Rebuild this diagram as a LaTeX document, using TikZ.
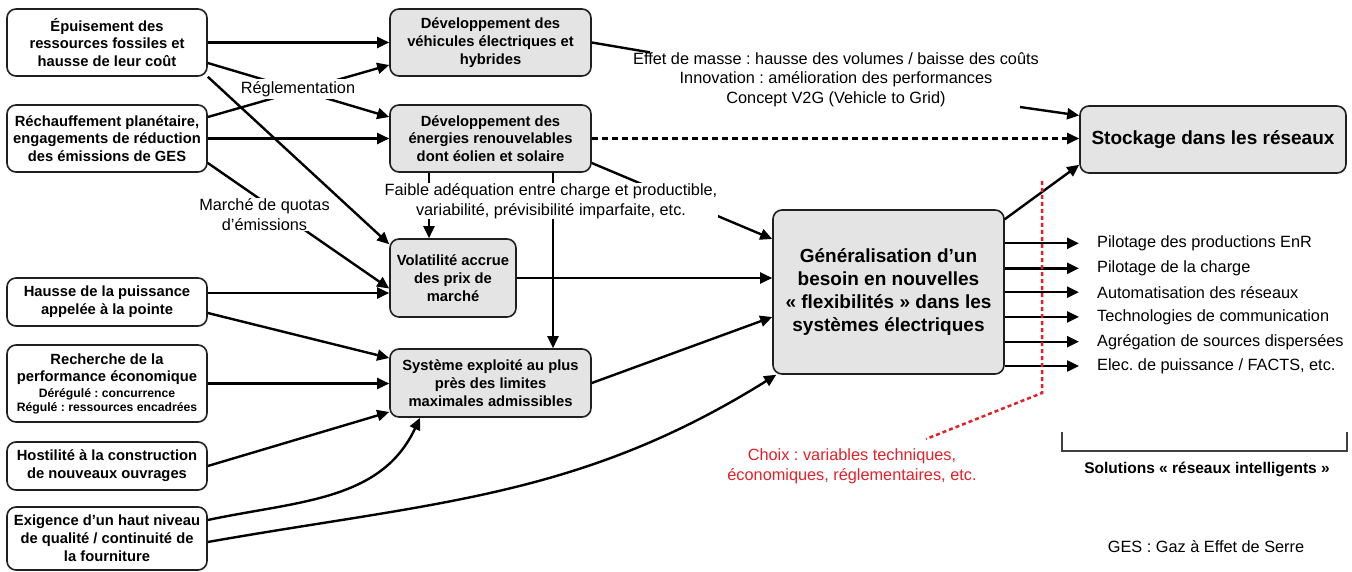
\documentclass[tikz,border=0pt]{standalone}
\usepackage{fontspec}
\setmainfont{Liberation Sans}
\usetikzlibrary{arrows.meta}
\definecolor{boxgray}{RGB}{228,228,228}
\definecolor{choixred}{RGB}{228,32,40}
\frenchspacing
\begin{document}
\begin{tikzpicture}[x=1pt,y=-1pt,
  box/.style={draw=black!88, line width=1.6pt, rounded corners=9pt, align=center,
    font=\bfseries\fontsize{14.75}{17.8}\selectfont, inner sep=1pt},
  wbox/.style={box, fill=white},
  gbox/.style={box, fill=boxgray},
  conn/.style={line width=2.4pt, -{Triangle[length=12pt,width=11pt]}},
  plainline/.style={line width=2.4pt},
  lbl/.style={font=\fontsize{16.3}{19.5}\selectfont, align=center, inner sep=1pt},
  wlbl/.style={lbl, fill=white, inner sep=2pt},
  outlbl/.style={font=\fontsize{16.3}{19.5}\selectfont, anchor=west, inner sep=0pt}]
\useasboundingbox (0,0) rectangle (1352,572);
\fill[white] (0,0) rectangle (1352,572);

% left boxes
\node[wbox, minimum width=200pt, minimum height=67pt] (A) at (107,42.5) {Épuisement des\\ressources fossiles et\\hausse de leur coût};
\node[wbox, minimum width=200pt, minimum height=67pt] (B) at (107,138.5) {Réchauffement planétaire,\\engagements de réduction\\des émissions de GES};
\node[wbox, minimum width=200pt, minimum height=48pt] (C) at (107,302) {Hausse de la puissance\\appelée à la pointe};
\node[wbox, minimum width=200pt, minimum height=77pt] (D) at (107,383.5) {Recherche de la\\performance économique\\[-2.5pt]{\fontsize{12.2}{14.3}\selectfont Dérégulé : concurrence}\\[-4pt]{\fontsize{12.2}{14.3}\selectfont Régulé : ressources encadrées}};
\node[wbox, minimum width=200pt, minimum height=48pt] (E) at (107,466) {Hostilité à la construction\\de nouveaux ouvrages};
\node[wbox, minimum width=200pt, minimum height=63pt] (F) at (107,538.5) {Exigence d’un haut niveau\\de qualité / continuité de\\la fourniture};

% middle boxes
\node[gbox, minimum width=201pt, minimum height=67pt] (V) at (490.5,42.5) {Développement des\\véhicules électriques et\\hybrides};
\node[gbox, minimum width=201pt, minimum height=67pt] (R) at (490.5,138.5) {Développement des\\énergies renouvelables\\dont éolien et solaire};
\node[gbox, minimum width=126pt, minimum height=78pt] (Vol) at (453,278) {Volatilité accrue\\des prix de\\marché};
\node[gbox, minimum width=201pt, minimum height=68pt] (Sys) at (490.5,383) {Système exploité au plus\\près des limites\\maximales admissibles};

% right boxes
\node[gbox, minimum width=231pt, minimum height=164pt, font=\bfseries\fontsize{19}{22.7}\selectfont] (Gen) at (888.5,292) {Généralisation d’un\\besoin en nouvelles\\« flexibilités » dans les\\systèmes électriques};
\node[gbox, minimum width=266pt, minimum height=67pt, font=\bfseries\fontsize{19}{22.7}\selectfont] (Stock) at (1213,139.5) {Stockage dans les réseaux};

% connectors from left boxes
\draw[conn] (A.east) -- (V.west);
\draw[conn] (B.east) -- (R.west);
\draw[conn] ([yshift=-20.5pt]A.east) -- ([yshift=21.5pt]R.west);
\draw[conn] ([yshift=21.5pt]B.east) -- ([yshift=-22.5pt]V.west);
\draw[conn] (A.south east) -- ([yshift=-6pt]Vol.north west);
\draw[conn] ([yshift=-24.5pt]B.east) -- ([yshift=-10.5pt]Vol.west);
\draw[conn] ([yshift=9pt]C.east) -- ([yshift=-15pt]Vol.west);
\draw[conn] ([yshift=-11pt]C.east) -- ([yshift=25pt]Sys.west);
\draw[conn] (D.east) -- (D.east -| Sys.west);
\draw[conn] (E.east) -- ([yshift=-29pt]Sys.west);
\draw[conn] ([yshift=18.5pt]F.east) to[out=12,in=245] ([xshift=-70.5pt]Sys.south);
\draw[conn] ([yshift=-3.5pt]F.east) to[out=10,in=212] ([xshift=4pt]Gen.south west);

% from R
\draw[conn] ([xshift=-61.5pt]R.south) -- ([xshift=-61.5pt]R.south |- Vol.north);
\draw[conn] ([xshift=62.5pt]R.south) -- ([xshift=62.5pt]R.south |- Sys.north);
\draw[conn] ([yshift=-24.5pt]R.east) -- ([yshift=53pt]Gen.west);
\draw[line width=2.4pt, dash pattern=on 6pt off 4pt, -{Triangle[length=12pt,width=11pt]}] (R.east) -- (R.east -| Stock.west);

% to Gen
\draw[conn] (Vol.east) -- (Vol.east -| Gen.west);
\draw[conn] (Sys.east) -- ([yshift=-25pt]Gen.west);

% labels covering lines
\node[wlbl] (regl) at (298,89) {Réglementation};
\node[wlbl, inner sep=1pt] (quota) at (264.5,214.5) {Marché de quotas\\d’émissions};
\node[wlbl, inner sep=1pt] (faible) at (551,201) {Faible adéquation entre charge et productible,\\variabilité, prévisibilité imparfaite, etc.};

% V -> Stockage via annotation
\node[lbl] (effet) at (836,79.7) {Effet de masse : hausse des volumes / baisse des coûts\\Innovation : amélioration des performances\\Concept V2G (Vehicle to Grid)};
\draw[plainline] (V.east) -- ([xshift=18pt,yshift=-1pt]effet.north west);
\draw[conn] ([xshift=-20pt,yshift=1pt]effet.south east) -- ([yshift=24pt]Stock.west);
\draw[conn] ([yshift=-10pt]Gen.north east) -- ([yshift=9pt]Stock.south west);

% outputs
\node[outlbl] (o1) at (1097,243.3) {Pilotage des productions EnR};
\node[outlbl] (o2) at (1097,268.3) {Pilotage de la charge};
\node[outlbl] (o3) at (1097,292.2) {Automatisation des réseaux};
\node[outlbl] (o4) at (1097,316.9) {Technologies de communication};
\node[outlbl] (o5) at (1097,341.7) {Agrégation de sources dispersées};
\node[outlbl] (o6) at (1097,366) {Elec. de puissance / FACTS, etc.};
\foreach \i in {1,...,6}{
  \draw[conn] (o\i.west -| Gen.east) -- ([xshift=-18pt]o\i.west);
}

% red choice line
\node[lbl, text=choixred] (choix) at (852,466.5) {Choix : variables techniques,\\économiques, réglementaires, etc.};
\coordinate (r1) at (1042,181);
\coordinate (r2) at (1042,393);
\coordinate (r3) at (926,439);
\draw[choixred, line width=2.5pt, dash pattern=on 4pt off 3pt] (r1) -- (r2) -- (r3);

% bracket
\coordinate (b1) at (1062,432);
\coordinate (b2) at (1062,451);
\coordinate (b3) at (1347,451);
\coordinate (b4) at (1347,432);
\draw[black!75, line width=1.5pt] (b1) -- (b2) -- (b3) -- (b4);
\node[font=\bfseries\fontsize{15.5}{18}\selectfont, inner sep=0pt] (sol) at (1207,469) {Solutions « réseaux intelligents »};

\node[lbl] (ges) at (1206,547) {GES : Gaz à Effet de Serre};
\end{tikzpicture}
\end{document}
